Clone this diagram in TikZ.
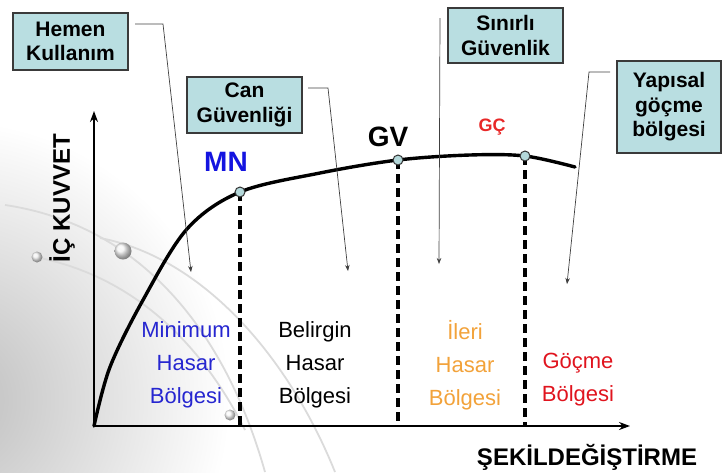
\documentclass[tikz,border=0pt]{standalone}
\usepackage{fontspec}
\setmainfont{Liberation Sans}
\usetikzlibrary{arrows.meta}
\definecolor{boxfill}{HTML}{B9DEE1}
\definecolor{boxdraw}{HTML}{3A3A3A}
\definecolor{mnblue}{HTML}{1414E0}
\definecolor{regblue}{HTML}{2626D0}
\definecolor{regorange}{HTML}{F2A23A}
\definecolor{regred}{HTML}{E0141E}
\definecolor{gcred}{HTML}{E82828}
\definecolor{dotfill}{HTML}{B4D8DA}
\tikzset{
  infobox/.style={draw=boxdraw, line width=1.1pt, fill=boxfill, minimum width=115pt, minimum height=56pt, align=center, inner sep=0pt, font=\bfseries\fontsize{21}{24.5}\selectfont},
  leader/.style={draw=black!75, line width=0.7pt},
  leaderarrow/.style={leader, -{Stealth[length=6pt,width=4.5pt]}},
  axisline/.style={line width=2.8pt, -{Stealth[length=11pt,width=8pt]}},
  dashedline/.style={line width=3.2pt, dash pattern=on 9pt off 5pt},
  regiontext/.style={align=center, font=\fontsize{22}{33}\selectfont},
  marker/.style={circle, draw=black!80, line width=1pt, fill=dotfill, minimum size=10pt, inner sep=0pt},
  ptlabel/.style={font=\bfseries\fontsize{28}{30}\selectfont},
  bgarc/.style={draw=black!14, line width=1.8pt},
  sphere/.style={circle, inner sep=0pt, shading=ball, ball color=black!3, opacity=0.85}
}
\begin{document}
\begin{tikzpicture}[x=1pt,y=-1pt]
\useasboundingbox (0,0) rectangle (722,472);
% background
\begin{scope}
\clip (0,0) rectangle (722,472);
\shade[inner color=black!26, outer color=white] (-50,400) circle (280pt);
\draw[bgarc] (5,205) .. controls (140,225) and (225,330) .. (265,472);
\draw[bgarc] (35,257) .. controls (130,275) and (200,340) .. (245,430);
\draw[bgarc] (100,238) .. controls (205,258) and (290,360) .. (335,472);
\node[sphere, minimum size=17pt] (sp1) at (123,251) {};
\node[sphere, minimum size=11pt] (sp2) at (37,257) {};
\node[sphere, minimum size=11pt] (sp3) at (230,415) {};
\end{scope}
% axes
\coordinate (O) at (94,426);
\coordinate (ytop) at (94,111);
\coordinate (xend) at (630,426);
\draw[axisline] (O) -- (ytop);
\draw[axisline] (O) -- (xend);
% curve
\coordinate (MN) at (240,192);
\coordinate (GV) at (398,160);
\coordinate (GC) at (525,156);
\draw[line width=3.4pt, line cap=round] plot[smooth, tension=0.55] coordinates {(94,426) (110,367) (143,300) (187,229) (240,192) (320,173) (398,160) (470,155) (525,156) (575,167)};
% dashed verticals
\coordinate (MNb) at (240,426);
\coordinate (GVb) at (398,426);
\coordinate (GCb) at (525,426);
\draw[dashedline] (MN) -- (MNb);
\draw[dashedline] (GV) -- (GVb);
\draw[dashedline] (GC) -- (GCb);
\node[marker] (mMN) at (MN) {};
\node[marker] (mGV) at (GV) {};
\node[marker] (mGC) at (GC) {};
% point labels
\node[ptlabel, text=mnblue] (lMN) at (226,162) {MN};
\node[ptlabel] (lGV) at (388,137) {GV};
\node[font=\bfseries\fontsize{18}{20}\selectfont, text=gcred] (lGC) at (492,127) {GÇ};
% axis labels
\node[font=\bfseries\fontsize{24}{26}\selectfont, rotate=90] (ylab) at (62,198) {İÇ KUVVET};
\node[font=\bfseries\fontsize{24}{26}\selectfont] (xlab) at (587,457) {ŞEKİLDEĞİŞTİRME};
% region labels
\node[regiontext, text=regblue] (r1) at (186,365) {Minimum\\Hasar\\Bölgesi};
\node[regiontext] (r2) at (315,365) {Belirgin\\Hasar\\Bölgesi};
\node[regiontext, text=regorange] (r3) at (465,365) {İleri\\Hasar\\Bölgesi};
\node[regiontext, text=regred] (r4) at (578,380) {Göçme\\Bölgesi};
% info boxes
\node[infobox, minimum height=57pt] (hemen) at (70.5,41.5) {Hemen\\Kullanım};
\node[infobox] (can) at (244.5,105) {Can\\Güvenliği};
\node[infobox, minimum height=55pt] (sinirli) at (505.5,35.5) {Sınırlı\\Güvenlik};
\node[infobox, minimum width=104pt, minimum height=92pt] (yapisal) at (669,107) {Yapısal\\göçme\\bölgesi};
% leaders
\coordinate (h1) at (135,24);
\coordinate (h2) at (163,24);
\coordinate (h3) at (191,272);
\draw[leaderarrow] (h1) -- (h2) -- (h3);
\coordinate (c1) at (308,88);
\coordinate (c2) at (328,88);
\coordinate (c3) at (348,271);
\draw[leaderarrow] (c1) -- (c2) -- (c3);
\coordinate (s1) at (440,18);
\coordinate (s2) at (439,264);
\draw[leaderarrow] (s1) -- (s2);
\coordinate (y1) at (610,72);
\coordinate (y2) at (589,72);
\coordinate (y3) at (567,284);
\draw[leaderarrow] (y1) -- (y2) -- (y3);
\end{tikzpicture}
\end{document}
